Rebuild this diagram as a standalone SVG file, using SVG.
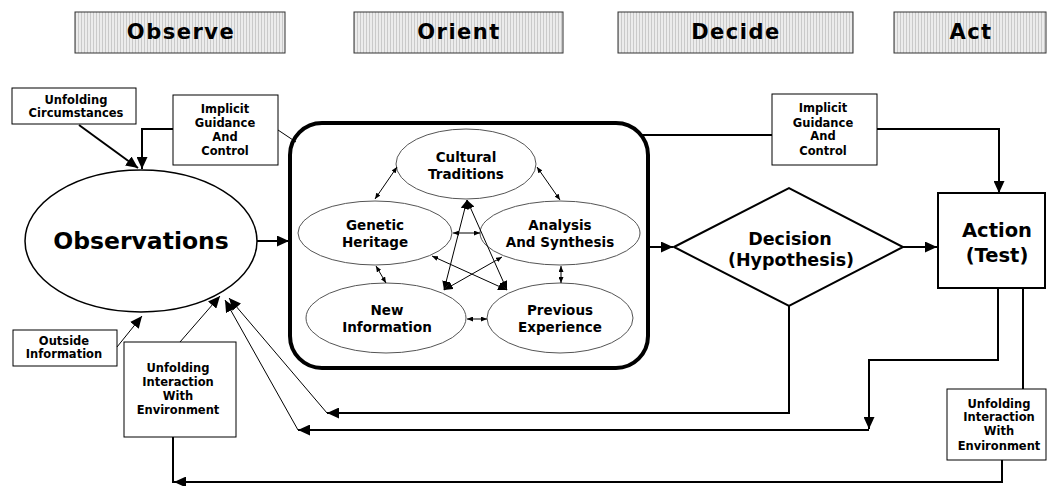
<svg xmlns="http://www.w3.org/2000/svg" width="1048" height="486" viewBox="0 0 1048 486">
<defs>
<style>
.hdr{fill:url(#hatch);stroke:#333;stroke-width:1}
.ht{font-family:"DejaVu Sans",sans-serif;font-weight:bold;font-size:21px;letter-spacing:1.5px;text-anchor:middle;fill:#000}
.box{fill:#fff;stroke:#000;stroke-width:1}
.st{font-family:"DejaVu Sans",sans-serif;font-weight:bold;font-size:11.5px;text-anchor:middle;fill:#000}
.it{font-family:"DejaVu Sans",sans-serif;font-weight:bold;font-size:13.5px;text-anchor:middle;fill:#000}
.bt{font-family:"DejaVu Sans",sans-serif;font-weight:bold;text-anchor:middle;fill:#000}
.ell{fill:#fff;stroke:#555;stroke-width:1}
.con{fill:none;stroke:#000;stroke-width:2}
.thin{fill:none;stroke:#000;stroke-width:1}
.arr{marker-end:url(#ah)}
.dbl{fill:none;stroke:#000;stroke-width:1;marker-start:url(#sm);marker-end:url(#sm)}
.dbm{fill:none;stroke:#000;stroke-width:1;marker-start:url(#md);marker-end:url(#md)}
.dsm{fill:none;stroke:#000;stroke-width:1;marker-start:url(#sm);marker-end:url(#md)}
</style>
<pattern id="hatch" width="3" height="3" patternUnits="userSpaceOnUse"><rect width="3" height="3" fill="#ececec"/><rect width="1" height="3" fill="#cacaca"/></pattern>
<marker id="ah" viewBox="0 0 12 11" refX="12" refY="5.5" markerWidth="12" markerHeight="11" markerUnits="userSpaceOnUse" orient="auto"><path d="M0,0 L12,5.5 L0,11 z" fill="#000"/></marker>
<marker id="sm" viewBox="0 0 6 5" refX="6" refY="2.5" markerWidth="6" markerHeight="5" markerUnits="userSpaceOnUse" orient="auto-start-reverse"><path d="M0,0 L6,2.5 L0,5 z" fill="#000"/></marker>
<marker id="md" viewBox="0 0 9 8" refX="9" refY="4" markerWidth="9" markerHeight="8" markerUnits="userSpaceOnUse" orient="auto-start-reverse"><path d="M0,0 L9,4 L0,8 z" fill="#000"/></marker>
</defs>
<rect width="1048" height="486" fill="#fff"/>

<g id="headers">
<g id="h-observe"><rect class="hdr" x="75" y="12" width="210" height="41"/><text class="ht" x="181" y="39">Observe</text></g>
<g id="h-orient"><rect class="hdr" x="354" y="12" width="209" height="41"/><text class="ht" x="459" y="39">Orient</text></g>
<g id="h-decide"><rect class="hdr" x="618" y="12" width="235" height="41"/><text class="ht" x="736" y="39">Decide</text></g>
<g id="h-act"><rect class="hdr" x="894" y="12" width="152" height="41"/><text class="ht" x="971" y="39">Act</text></g>
</g>

<g id="unfolding-circumstances"><rect class="box" x="12" y="88" width="124" height="36"/><text class="st" x="76" y="104">Unfolding</text><text class="st" x="76" y="117">Circumstances</text></g>

<g id="implicit-left"><rect class="box" x="173" y="95" width="105" height="70"/><text class="st" x="225" y="113">Implicit</text><text class="st" x="225" y="127">Guidance</text><text class="st" x="225" y="141">And</text><text class="st" x="225" y="155">Control</text></g>

<g id="observations"><ellipse cx="141" cy="241" rx="116" ry="71" fill="#fff" stroke="#000" stroke-width="1.5"/><text class="bt" x="141" y="249" font-size="23.5">Observations</text></g>

<g id="outside-information"><rect class="box" x="13" y="330" width="104" height="36"/><text class="st" x="64" y="345">Outside</text><text class="st" x="64" y="358">Information</text></g>

<g id="unfolding-left"><rect class="box" x="124" y="342" width="112" height="95"/><text class="st" x="178" y="372">Unfolding</text><text class="st" x="178" y="386">Interaction</text><text class="st" x="178" y="400">With</text><text class="st" x="178" y="414">Environment</text></g>

<g id="orient"><rect x="290" y="123" width="358" height="245" rx="32" ry="32" fill="#fff" stroke="#000" stroke-width="4"/></g>

<g id="cultural-traditions"><ellipse class="ell" cx="466" cy="164" rx="70" ry="35"/><text class="it" x="466" y="162">Cultural</text><text class="it" x="466" y="179">Traditions</text></g>
<g id="genetic-heritage"><ellipse class="ell" cx="375" cy="233" rx="77" ry="32"/><text class="it" x="375" y="230">Genetic</text><text class="it" x="375" y="247">Heritage</text></g>
<g id="analysis-synthesis"><ellipse class="ell" cx="560" cy="233" rx="80" ry="32"/><text class="it" x="560" y="230">Analysis</text><text class="it" x="560" y="247">And Synthesis</text></g>
<g id="new-information"><ellipse class="ell" cx="386" cy="318" rx="80" ry="35"/><text class="it" x="387" y="315">New</text><text class="it" x="387" y="332">Information</text></g>
<g id="previous-experience"><ellipse class="ell" cx="560" cy="318" rx="73" ry="35"/><text class="it" x="560" y="315">Previous</text><text class="it" x="560" y="332">Experience</text></g>

<g id="decision"><polygon points="674,247 789,188 903,247 789,306" fill="#fff" stroke="#000" stroke-width="2"/><text class="bt" x="790" y="245" font-size="17.5">Decision</text><text class="bt" x="791" y="266" font-size="17.5">(Hypothesis)</text></g>

<g id="implicit-right"><rect class="box" x="772" y="94" width="105" height="71"/><text class="st" x="823" y="112">Implicit</text><text class="st" x="823" y="127">Guidance</text><text class="st" x="823" y="140">And</text><text class="st" x="823" y="155">Control</text></g>

<g id="action"><rect x="938" y="193" width="107" height="95" fill="#fff" stroke="#000" stroke-width="2"/><text class="bt" x="997" y="237" font-size="19.5">Action</text><text class="bt" x="997" y="262" font-size="19.5">(Test)</text></g>

<g id="unfolding-right"><rect class="box" x="947" y="389" width="99" height="71"/><text class="st" x="999" y="408">Unfolding</text><text class="st" x="999" y="421">Interaction</text><text class="st" x="999" y="435">With</text><text class="st" x="999" y="450">Environment</text></g>

<g id="connectors">
<line class="con arr" x1="79" y1="125" x2="138" y2="168"/>
<polyline class="con arr" points="173,129 142,129 142,169"/>
<line class="thin" x1="278" y1="130" x2="296" y2="142"/>
<line class="con arr" x1="257" y1="241" x2="289" y2="241"/>
<line class="con arr" x1="648" y1="247" x2="673" y2="247"/>
<line class="con arr" x1="903" y1="247" x2="937" y2="247"/>
<line class="con" x1="641" y1="135" x2="772" y2="135"/>
<polyline class="con arr" points="877,129 999,129 999,193"/>
<polyline class="con arr" points="998,288 998,360 869,360 869,429"/>
<line class="con" x1="1023" y1="288" x2="1023" y2="389"/>
<polyline class="con arr" points="1002,460 1002,482 174,482"/>
<line class="con" x1="173" y1="437" x2="173" y2="483"/>
<polyline class="con arr" points="789,306 789,413 327,413"/>
<line class="thin arr" x1="327" y1="413" x2="229" y2="298"/>
<line class="con arr" x1="869" y1="430" x2="298" y2="430"/>
<line class="thin arr" x1="298" y1="430" x2="225" y2="300"/>
<line class="thin arr" x1="180" y1="342" x2="220" y2="296"/>
<line class="thin arr" x1="117" y1="347" x2="142" y2="316"/>
<line class="dbl" x1="397" y1="167" x2="375" y2="199"/>
<line class="dbl" x1="537" y1="167" x2="560" y2="200"/>
<line class="dbl" x1="453" y1="233" x2="480" y2="233"/>
<line class="dbl" x1="376" y1="266" x2="386" y2="283"/>
<line class="dbl" x1="561" y1="266" x2="561" y2="283"/>
<line class="dbl" x1="467" y1="319" x2="487" y2="319"/>
<line class="dbm" x1="467" y1="200" x2="444" y2="290"/>
<line class="dbm" x1="467" y1="200" x2="507" y2="290"/>
<line class="dsm" x1="432" y1="256" x2="507" y2="290"/>
<line class="dsm" x1="502" y1="257" x2="444" y2="290"/>
</g>
</svg>
